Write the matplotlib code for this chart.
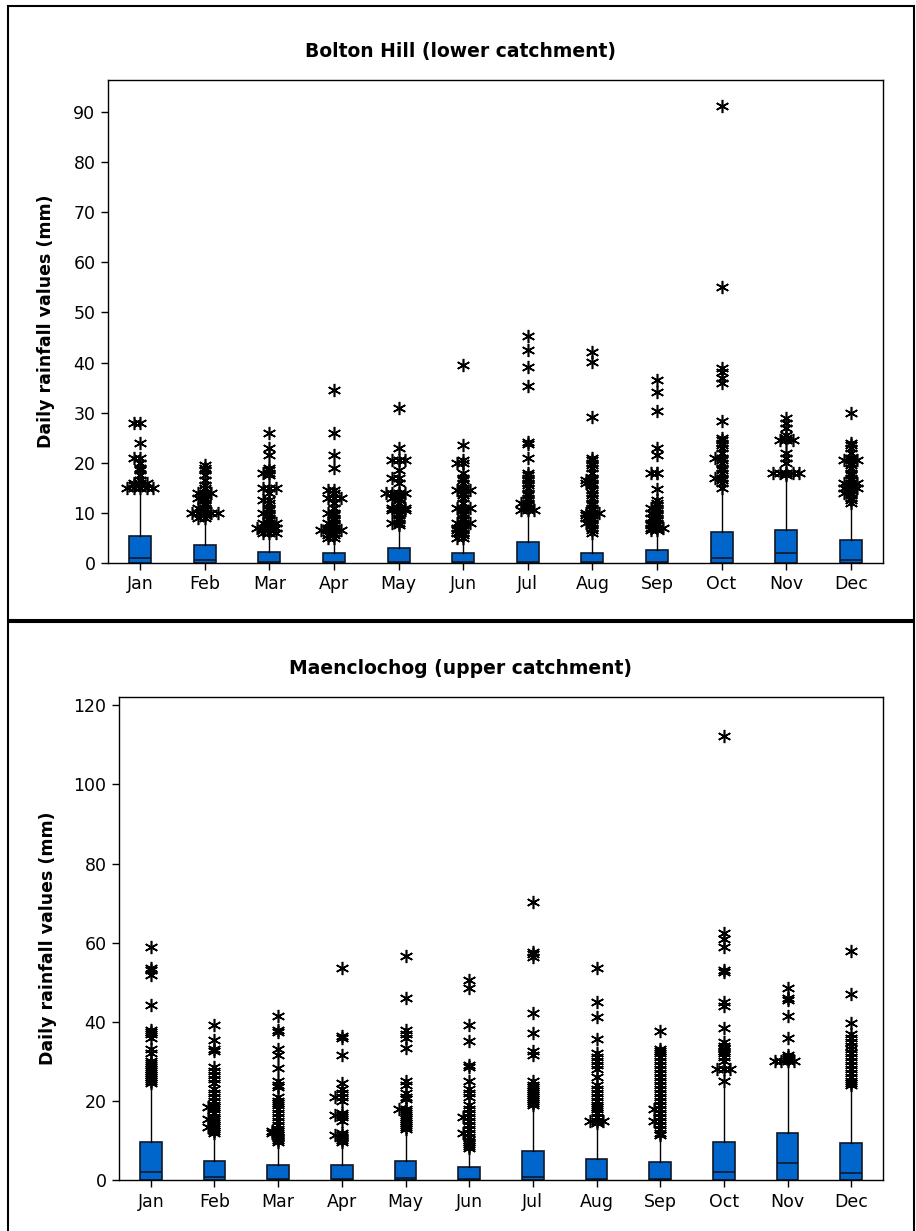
import matplotlib.pyplot as plt
from matplotlib.patches import Rectangle
import numpy as np

months = ["Jan", "Feb", "Mar", "Apr", "May", "Jun", "Jul", "Aug", "Sep", "Oct", "Nov", "Dec"]

# Bolton Hill (lower catchment): upper quartile, median, upper whisker
bolton_q3 = [5.4, 3.5, 2.2, 1.9, 2.9, 1.9, 4.1, 1.9, 2.5, 6.1, 6.6, 4.6]
bolton_med = [0.9, 0.5, 0.2, 0.1, 0.2, 0.1, 0.2, 0.1, 0.1, 0.9, 1.9, 0.5]
bolton_whi = [13.5, 8.6, 5.5, 4.6, 7.2, 4.6, 10.0, 4.8, 6.0, 14.8, 16.5, 11.6]
bolton_out = [
    [28, 28, 24, 21, 21, 20, 19, 18.5, 17.5, 16.5, 16, 16, 16, 15.5, 15.5, 15, 15, 15, 15, 15],
    [19.5, 19, 18.5, 17.5, 16.5, 15.5, 15, 14, 14, 14, 13.5, 13, 13, 12.5, 12, 11.5, 11, 11,
     10.5, 10, 10, 10, 10, 10, 9.5, 9, 9],
    [26, 23, 21.5, 19, 18.5, 18, 18, 17.5, 15, 15, 15, 14, 12.5, 12.5, 12, 11, 10.5, 10, 10,
     9.5, 9, 8.5, 8, 8, 8, 7.5, 7, 7, 7, 7, 6.5, 6.5, 6, 6, 6],
    [34.5, 26, 21.5, 19, 14.5, 14.5, 14, 13, 13, 13, 12, 11, 10, 10, 9.5, 9, 8.5, 8, 8, 7.5,
     7, 7, 6.5, 6.5, 6.5, 6.5, 6, 5.5, 5.5, 5, 5],
    [31, 23, 20.5, 20.5, 20.5, 18.5, 17, 17, 16, 14, 14, 14, 14, 13.5, 13, 13, 12.5, 12, 11,
     11, 11, 10.5, 10.5, 10.5, 10, 9.5, 9, 8.5, 8, 8, 7.5],
    [39.5, 23.5, 20.5, 20, 20, 18, 17, 16.5, 16, 15, 14.5, 14.5, 14.5, 14, 13.5, 13, 12, 11,
     11, 11, 10.5, 10, 9.5, 9, 8.5, 8, 8, 8, 7.5, 7, 7, 6.5, 6.5, 6, 6, 5.5, 5, 5],
    [45.2, 42.4, 39.1, 35.4, 24.2, 23.8, 21, 18, 17.5, 17, 16.5, 16, 15.5, 15, 14, 13.5, 13,
     12.5, 12, 12, 11.5, 11, 10.5, 10.5, 10.5],
    [42, 40.2, 29.1, 21, 20.5, 20, 19.5, 19, 18, 17, 16.5, 16.5, 16, 16, 15.5, 14.5, 14, 13.5,
     13, 12, 11.5, 11, 10.5, 10, 10, 10, 9.5, 9.5, 9, 9, 8.5, 8, 8, 7.5, 7, 6.5, 6],
    [36.5, 34.2, 30.3, 22.9, 21.6, 18, 18, 17.9, 14.7, 12.5, 12, 11.5, 11, 11, 10.5, 10, 10,
     9.5, 9, 9, 8.5, 8, 8, 7.5, 7.5, 7, 7, 7, 6.5, 6.5],
    [91.1, 55, 38.9, 38.2, 37, 35.9, 28.4, 25, 24.5, 24, 23.5, 23, 22, 21, 21, 20.5, 20, 19,
     18.5, 18, 17, 17, 16.5, 16, 15],
    [29, 28, 27, 25.5, 25, 24.5, 24.5, 24.5, 22, 21, 20, 18, 18, 18, 18, 18, 17.5],
    [30, 24, 23.5, 23, 22, 21, 20.5, 20.5, 20.5, 20, 19.5, 19, 18, 17.5, 17, 16.5, 16, 16, 16,
     15.5, 15, 15, 15, 14.5, 14, 14, 13.5, 13, 12.5, 12],
]

# Maenclochog (upper catchment)
maen_q3 = [9.7, 4.9, 3.8, 3.8, 4.9, 3.4, 7.3, 5.3, 4.5, 9.7, 12.0, 9.4]
maen_med = [2.1, 0.7, 0.3, 0.2, 0.4, 0.2, 0.8, 0.2, 0.2, 2.1, 4.2, 1.7]
maen_whi = [23.6, 11.8, 9.3, 8.8, 11.8, 8.0, 17.3, 12.6, 10.5, 23.2, 29.5, 23.2]
maen_out = [
    [58.8, 53.6, 53, 51.8, 44.2, 38, 37.5, 37, 36, 33, 32, 30, 29.5, 29, 28, 27.5, 27, 26.5,
     26, 25.5, 25, 24.5],
    [39.3, 35.4, 33, 32.5, 28.5, 27.5, 26.5, 25.5, 24.5, 23, 22, 21, 20, 19, 18.5, 18.5, 18,
     17, 16, 15.5, 15.5, 15, 14, 13.5, 13.5, 13, 12.5, 12],
    [41.4, 38, 37.5, 33, 31.5, 28.2, 25, 24, 23.5, 21, 20, 19.5, 19, 18, 17, 16, 15, 14, 13,
     12.5, 12.5, 12, 12, 11.5, 11, 10.5, 10, 9.5],
    [53.5, 36.5, 36, 31.6, 24.5, 23, 22, 21, 21, 20, 17, 16.5, 16.5, 16, 15, 12, 11.5, 11.5,
     11, 10.5, 10, 9.5],
    [56.7, 46.1, 38, 37, 36, 33.5, 25, 24, 22, 21, 20.5, 18, 18, 17.5, 17, 16, 15.5, 15, 14.5,
     14, 13.5, 13],
    [50.5, 48.5, 39.3, 35.1, 29, 28.5, 25, 23, 22, 21, 19, 18, 17, 16, 16, 15, 14, 13, 12, 12,
     11, 10, 9.5, 9, 8.5, 8],
    [70.2, 57.7, 57.2, 56.5, 42.3, 37.1, 32.5, 31.5, 25, 24, 23.5, 23, 22.5, 22, 21.5, 21,
     20.5, 20, 19.5, 19],
    [53.5, 45.1, 41.3, 35.6, 32, 31, 30, 29, 28, 26, 24, 23, 22, 21, 20, 19, 18.5, 18, 17, 16,
     15, 15, 15, 14.5],
    [37.7, 33, 32.5, 32, 31, 30, 29, 28, 27, 26, 25, 24, 23, 22, 21, 20, 19, 18, 18, 17, 16,
     15, 15, 14, 13, 12, 11.5],
    [112.2, 62.5, 61, 59, 53, 52.5, 45, 44, 38.5, 35, 34, 33.5, 33, 32.5, 32, 31, 30, 28, 28,
     28, 25],
    [48.6, 46, 45.5, 41.4, 36, 31.5, 31, 30.5, 30, 30, 30, 30],
    [57.9, 47, 39.8, 37, 36, 35, 34, 33, 32, 31, 30, 29, 28, 27, 26, 25, 24.5, 24],
]

plt.rcParams["font.family"] = "DejaVu Sans"

fig = plt.figure(figsize=(9.16, 12.31), dpi=100)

# panel frames (the lower one runs off the bottom of the picture)
for y0, h in [(1 - 620 / 1231, (620 - 6) / 1231), (-0.05, 1 - 622 / 1231 + 0.05)]:
    fig.patches.append(Rectangle((8 / 916, y0), 906 / 916, h, transform=fig.transFigure,
                                 fill=False, edgecolor="black", linewidth=1.5))

ax1 = fig.add_axes([0.1179, 0.5427, 0.8461, 0.3924])
ax2 = fig.add_axes([0.1299, 0.0414, 0.8341, 0.3924])


def draw_panel(ax, q3, med, whi, outs, ymax, yticks):
    stats = []
    for i in range(len(months)):
        stats.append({"q1": 0.0, "med": med[i], "q3": q3[i], "whislo": 0.0,
                      "whishi": whi[i], "fliers": []})
    pos = np.arange(1, len(months) + 1)
    ax.bxp(stats, positions=pos, widths=0.34, patch_artist=True, showcaps=False,
           showfliers=False,
           boxprops=dict(facecolor="#0066CC", edgecolor="#101828", linewidth=1.2),
           medianprops=dict(color="#101828", linewidth=1.2),
           whiskerprops=dict(color="black", linewidth=1.0))
    # outliers: repeated values are spread sideways
    for p, vals in zip(pos, outs):
        seen = {}
        xs = []
        for v in vals:
            k = seen.get(v, 0)
            seen[v] = k + 1
            off = [0, -1, 1, -2, 2, -3, 3][k % 7]
            xs.append(p + off * 0.1)
        ax.plot(xs, vals, linestyle="none", marker=(6, 2, 0), markersize=9.5,
                markeredgewidth=1.15, color="black")
    ax.set_xlim(0.5, len(months) + 0.5)
    ax.set_ylim(0, ymax)
    ax.set_xticks(pos)
    ax.set_xticklabels(months)
    ax.set_yticks(yticks)
    ax.tick_params(direction="out", length=5, width=1, labelsize=12.5, pad=4)
    ax.set_ylabel("Daily rainfall values (mm)", fontsize=12.5, fontweight="bold")
    for s in ax.spines.values():
        s.set_linewidth(1.0)


draw_panel(ax1, bolton_q3, bolton_med, bolton_whi, bolton_out, 96.4, range(0, 91, 10))
draw_panel(ax2, maen_q3, maen_med, maen_whi, maen_out, 122.1, range(0, 121, 20))
ax1.yaxis.set_label_coords(-0.068, 0.5)
ax2.yaxis.set_label_coords(-0.081, 0.5)

fig.text(0.503, 1 - 51 / 1231, "Bolton Hill (lower catchment)", ha="center", va="center",
         fontsize=13.5, fontweight="bold")
fig.text(0.503, 1 - 669 / 1231, "Maenclochog (upper catchment)", ha="center", va="center",
         fontsize=13.5, fontweight="bold")

fig.savefig("out.png", dpi=100)
